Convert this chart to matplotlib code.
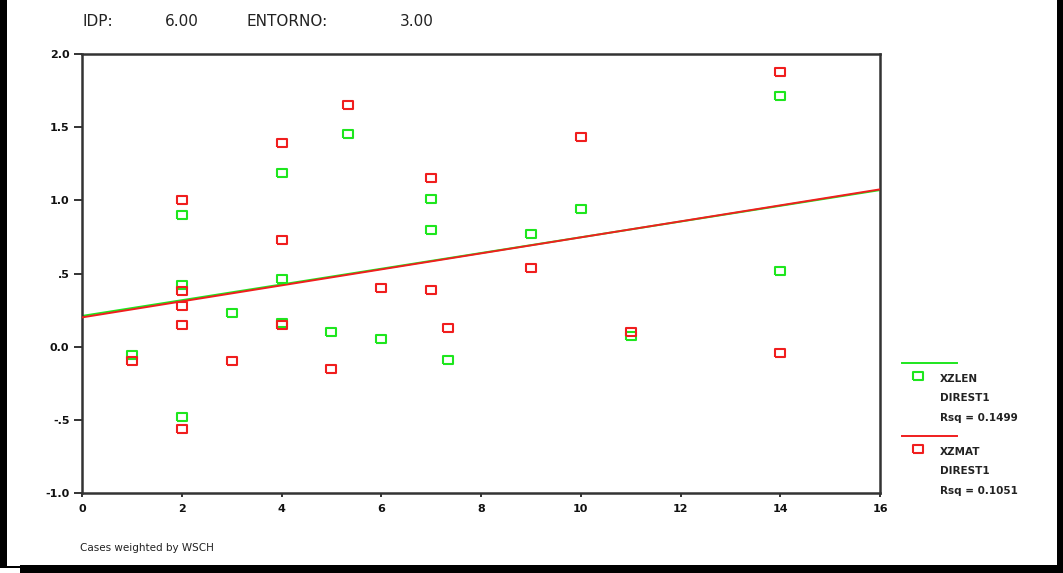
import matplotlib
matplotlib.use("Agg")
import matplotlib.pyplot as plt
import numpy as np
from matplotlib.patches import Rectangle
from matplotlib.lines import Line2D

# ---- data ----
xzlen_x = [1, 2, 2, 2, 3, 4, 4, 4, 5, 5.33, 6, 7, 7, 7.33, 9, 10, 11, 14, 14]
xzlen_y = [-0.06, 0.90, 0.42, -0.48, 0.23, 1.19, 0.46, 0.16, 0.10, 1.45, 0.05,
           1.01, 0.80, -0.09, 0.77, 0.94, 0.07, 1.71, 0.52]

xzmat_x = [1, 2, 2, 2, 2, 2, 3, 4, 4, 4, 5, 5.33, 6, 7, 7, 7.33, 9, 10, 11, 14, 14]
xzmat_y = [-0.10, 1.00, 0.38, 0.28, 0.15, -0.56, -0.10, 1.39, 0.73, 0.15, -0.15,
           1.65, 0.40, 1.15, 0.39, 0.13, 0.54, 1.43, 0.10, 1.88, -0.04]

# fitted lines (value at x=0 and at x=16)
fit_x = [0, 16]
xzlen_fit = [0.21, 1.07]
xzmat_fit = [0.20, 1.075]

xticks = [0, 2, 4, 6, 8, 10, 12, 14, 16]
xticklabels = ["0", "2", "4", "6", "8", "10", "12", "14", "16"]
yticks = [2.0, 1.5, 1.0, 0.5, 0.0, -0.5, -1.0]
yticklabels = ["2.0", "1.5", "1.0", ".5", "0.0", "-.5", "-1.0"]

title_parts = ["IDP:", "6.00", "ENTORNO:", "3.00"]
legend_entries = [("XZLEN", "DIREST1", "Rsq = 0.1499"),
                  ("XZMAT", "DIREST1", "Rsq = 0.1051")]
footnote = "Cases weighted by WSCH"

GREEN = "#1ee61e"
RED = "#f01e1e"

W, H = 1063, 573
fig = plt.figure(figsize=(W / 100, H / 100), dpi=100)
fig.patch.set_facecolor("white")

def fx(px):
    return px / W

def fy(py):
    return 1 - py / H

ax = fig.add_axes([fx(82), fy(493), fx(880) - fx(82), fy(54) - fy(493)])
ax.set_xlim(0, 16)
ax.set_ylim(-1.0, 2.0)

rect_marker = [(-1.3, -1), (1.3, -1), (1.3, 1), (-1.3, 1), (-1.3, -1)]
MS = 7
MEW = 1.5

ax.plot(fit_x, xzlen_fit, color=GREEN, lw=1.4, zorder=2)
ax.plot(fit_x, xzmat_fit, color=RED, lw=1.4, zorder=3)
ax.plot(xzlen_x, xzlen_y, ls="none", marker=rect_marker, ms=MS, mfc="none",
        mec=GREEN, mew=MEW, zorder=4)
ax.plot(xzmat_x, xzmat_y, ls="none", marker=rect_marker, ms=MS, mfc="none",
        mec=RED, mew=MEW, zorder=5)

for s in ax.spines.values():
    s.set_color("#333333")
    s.set_linewidth(1.8)

ax.set_xticks(xticks)
ax.set_xticklabels(xticklabels)
ax.set_yticks(yticks)
ax.set_yticklabels(yticklabels)
ax.tick_params(axis="y", direction="out", length=6, width=1.2, labelsize=8,
               pad=3, colors="#111111")
ax.tick_params(axis="x", direction="out", length=3, width=1.2, labelsize=8,
               pad=5, colors="#111111")
for lab in ax.get_xticklabels() + ax.get_yticklabels():
    lab.set_fontweight("bold")

# title pieces
for txt, px in zip(title_parts, [83, 165, 246, 400]):
    fig.text(fx(px), fy(22), txt, fontsize=11, ha="left", va="center",
             color="#222222")

# legend (drawn manually outside the axes)
leg_colors = [GREEN, RED]
leg_top = [363, 436]
for (name, meth, rsq), col, ty in zip(legend_entries, leg_colors, leg_top):
    fig.add_artist(Line2D([fx(902), fx(957)], [fy(ty), fy(ty)], color=col, lw=1.4))
    fig.add_artist(Line2D([fx(918)], [fy(ty + 13)], ls="none", marker=rect_marker,
                          ms=MS, mfc="none", mec=col, mew=MEW))
    fig.text(fx(940), fy(ty + 16), name, fontsize=7.5, fontweight="bold",
             ha="left", va="center", color="#222222")
    fig.text(fx(940), fy(ty + 35), meth, fontsize=7.5, fontweight="bold",
             ha="left", va="center", color="#222222")
    fig.text(fx(940), fy(ty + 55), rsq, fontsize=7.5, fontweight="bold",
             ha="left", va="center", color="#222222")

fig.text(fx(80), fy(548), footnote, fontsize=7.5, ha="left", va="center",
         color="#222222")

# black frame (left, right, bottom bars)
fig.add_artist(Rectangle((0, fy(567)), fx(7), 1 - fy(567), transform=fig.transFigure,
                         color="black", lw=0))
fig.add_artist(Rectangle((fx(1057), 0), 1 - fx(1057), 1, transform=fig.transFigure,
                         color="black", lw=0))
fig.add_artist(Rectangle((fx(20), 0), 1 - fx(20), fy(565),
                         transform=fig.transFigure, color="black", lw=0))
fig.add_artist(Rectangle((0, fy(568)), fx(20), fy(566) - fy(568),
                         transform=fig.transFigure, color="black", lw=0))

fig.savefig("out.png", dpi=100, facecolor="white")
